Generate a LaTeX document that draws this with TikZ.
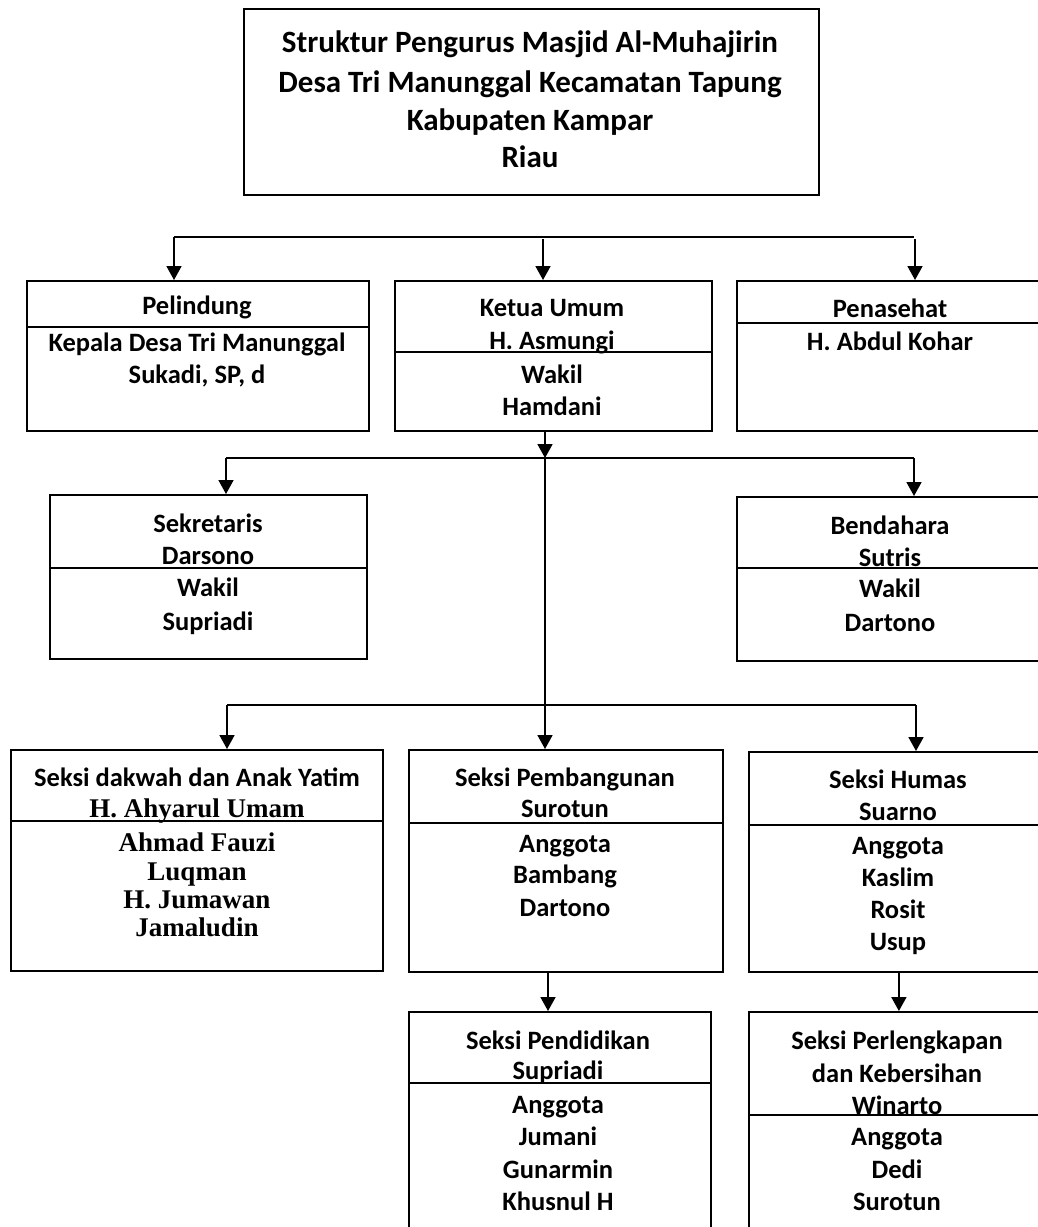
\documentclass[tikz,border=0pt]{standalone}
\usepackage{fontspec}
\setmainfont{Carlito}
\newfontfamily\tmsfont{Liberation Serif}
\usetikzlibrary{arrows.meta}
\tikzset{
  box/.style={draw, line width=1.8pt, inner sep=0pt, anchor=north west},
  txt/.style={inner sep=0pt, anchor=base, font=\fontsize{26.5}{31}\selectfont\bfseries},
  ttl/.style={inner sep=0pt, anchor=base, font=\fontsize{31}{36}\selectfont\bfseries},
  sertxt/.style={inner sep=0pt, anchor=base, font=\fontsize{27}{31}\selectfont\tmsfont\bfseries},
  conn/.style={line width=1.8pt},
  arr/.style={line width=1.8pt, -{Triangle[length=14pt,width=15pt]}},
  divl/.style={line width=1.8pt}
}
\newcommand\putline[4]{\node[txt] (#1) at (#2,#3+9) {#4};}
\newcommand\putser[4]{\node[sertxt] (#1) at (#2,#3+9) {#4};}
\begin{document}
\begin{tikzpicture}[x=1pt,y=-1pt]
\useasboundingbox (0,0) rectangle (1038,1227);
\clip (0,0) rectangle (1038,1227);
\fill[white] (0,0) rectangle (1038,1227);

% ---- boxes ----
\node[box, minimum width=575pt, minimum height=186pt] (title) at (243,8) {};
\node[box, minimum width=342pt, minimum height=150pt] (pel) at (26,280) {};
\node[box, minimum width=317pt, minimum height=150pt] (ket) at (394,280) {};
\node[box, minimum width=309pt, minimum height=150pt] (pen) at (736,280) {};
\node[box, minimum width=317pt, minimum height=164pt] (sek) at (49,494) {};
\node[box, minimum width=309pt, minimum height=164pt] (ben) at (736,496) {};
\node[box, minimum width=372pt, minimum height=221pt] (dak) at (10,749) {};
\node[box, minimum width=314pt, minimum height=222pt] (pem) at (408,749) {};
\node[box, minimum width=300pt, minimum height=220pt] (hum) at (748,751) {};
\node[box, minimum width=302pt, minimum height=240pt] (pend) at (408,1011) {};
\node[box, minimum width=300pt, minimum height=240pt] (perl) at (748,1011) {};

% ---- dividers ----
\draw[divl] (pel.west |- 0,327) -- (pel.east |- 0,327);
\draw[divl] (ket.west |- 0,352) -- (ket.east |- 0,352);
\draw[divl] (pen.west |- 0,323) -- (pen.east |- 0,323);
\draw[divl] (sek.west |- 0,568) -- (sek.east |- 0,568);
\draw[divl] (ben.west |- 0,568) -- (ben.east |- 0,568);
\draw[divl] (dak.west |- 0,821) -- (dak.east |- 0,821);
\draw[divl] (pem.west |- 0,823) -- (pem.east |- 0,823);
\draw[divl] (hum.west |- 0,825) -- (hum.east |- 0,825);
\draw[divl] (pend.west |- 0,1083) -- (pend.east |- 0,1083);
\draw[divl] (perl.west |- 0,1115) -- (perl.east |- 0,1115);

% ---- title ----
\node[ttl] (t1) at (530,42+10) {Struktur Pengurus Masjid Al-Muhajirin};
\node[ttl] (t2) at (530,82+10) {Desa Tri Manunggal Kecamatan Tapung};
\node[ttl] (t3) at (530,120+10) {Kabupaten Kampar};
\node[ttl] (t4) at (530,157+10) {Riau};

% ---- texts ----
\putline{pela}{197}{305}{Pelindung}
\putline{pelb}{197}{342}{Kepala Desa Tri Manunggal}
\putline{pelc}{197}{374}{Sukadi, SP, d}

\putline{keta}{552}{307}{Ketua Umum}
\putline{ketb}{552}{340}{H. Asmungi}
\putline{ketc}{552}{374}{Wakil}
\putline{ketd}{552}{406}{Hamdani}

\putline{pena}{890}{308}{Penasehat}
\putline{penb}{890}{341}{H. Abdul Kohar}

\putline{seka}{208}{523}{Sekretaris}
\putline{sekb}{208}{555}{Darsono}
\putline{sekc}{208}{587}{Wakil}
\putline{sekd}{208}{621}{Supriadi}

\putline{bena}{890}{525}{Bendahara}
\putline{benb}{890}{557}{Sutris}
\putline{benc}{890}{588}{Wakil}
\putline{bend}{890}{622}{Dartono}

\putline{daka}{197}{777}{Seksi dakwah dan Anak Yatim}
\putser{dakb}{197}{808}{H. Ahyarul Umam}
\putser{dakc}{197}{842}{Ahmad Fauzi}
\putser{dakd}{197}{871}{Luqman}
\putser{dake}{197}{899}{H. Jumawan}
\putser{dakf}{197}{927}{Jamaludin}

\putline{pema}{565}{777}{Seksi Pembangunan}
\putline{pemb}{565}{808}{Surotun}
\putline{pemc}{565}{843}{Anggota}
\putline{pemd}{565}{874}{Bambang}
\putline{peme}{565}{907}{Dartono}

\putline{huma}{898}{779}{Seksi Humas}
\putline{humb}{898}{811}{Suarno}
\putline{humc}{898}{845}{Anggota}
\putline{humd}{898}{877}{Kaslim}
\putline{hume}{898}{909}{Rosit}
\putline{humf}{898}{941}{Usup}

\putline{penda}{558}{1040}{Seksi Pendidikan}
\putline{pendb}{558}{1070}{Supriadi}
\putline{pendc}{558}{1104}{Anggota}
\putline{pendd}{558}{1136}{Jumani}
\putline{pende}{558}{1169}{Gunarmin}
\putline{pendf}{558}{1201}{Khusnul H}

\putline{perla}{897}{1040}{Seksi Perlengkapan}
\putline{perlb}{897}{1073}{dan Kebersihan}
\putline{perlc}{897}{1105}{Winarto}
\putline{perld}{897}{1136}{Anggota}
\putline{perle}{897}{1169}{Dedi}
\putline{perlf}{897}{1201}{Surotun}

% ---- connectors ----
\coordinate (j1L) at (174,237);
\coordinate (j1R) at (914,237);
\coordinate (j1M) at (543,239);
\coordinate (j1Rb) at (915,239);
\draw[conn] (j1L) -- (j1R);
\draw[arr] (j1L) -- (pel.north -| j1L);
\draw[arr] (j1M) -- (ket.north -| j1M);
\draw[arr] (j1Rb) -- (pen.north -| j1Rb);

\coordinate (j2L) at (226,458);
\coordinate (j2M) at (545,458);
\coordinate (j2R) at (914,458);
\draw[arr] (ket.south -| j2M) -- (j2M);
\draw[conn] (j2L) -- (j2R);
\draw[arr] (j2L) -- (sek.north -| j2L);
\draw[arr] (j2R) -- (ben.north -| j2R);

\coordinate (j3L) at (227,705);
\coordinate (j3M) at (545,705);
\coordinate (j3R) at (916,705);
\draw[conn] (j2M) -- (j3M);
\draw[conn] (j3L) -- (j3R);
\draw[arr] (j3L) -- (dak.north -| j3L);
\draw[arr] (j3M) -- (pem.north -| j3M);
\draw[arr] (j3R) -- (hum.north -| j3R);

\coordinate (a4) at (548,0);
\draw[arr] (pem.south -| a4) -- (pend.north -| a4);
\draw[arr] (hum.south) -- (perl.north -| hum.south);
\end{tikzpicture}
\end{document}
